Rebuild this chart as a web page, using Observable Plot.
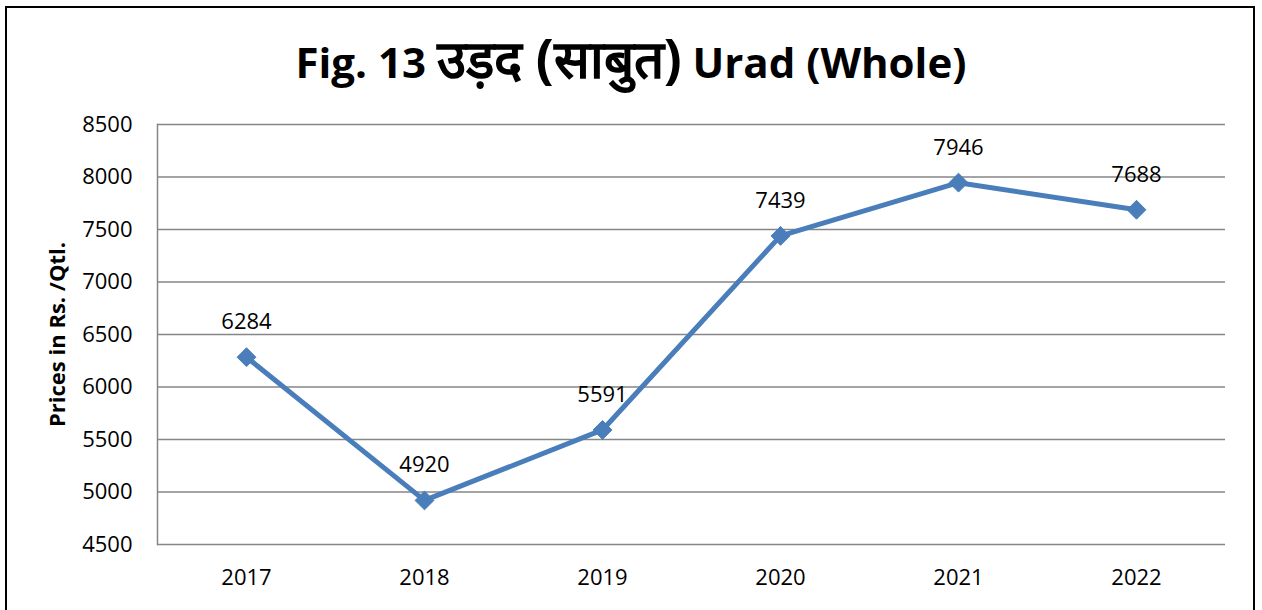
<!DOCTYPE html>
<html>
<head>
<meta charset="utf-8">
<script src="https://cdn.jsdelivr.net/npm/d3@7"></script>
<script src="https://cdn.jsdelivr.net/npm/@observablehq/plot@0.6"></script>
<style>
  html, body { margin: 0; padding: 0; background: #fff; overflow: hidden; }
  #wrap { position: relative; width: 1262px; height: 610px; font-family: "Open Sans", sans-serif; }
  #border { position: absolute; left: 5px; top: 6px; width: 1250px; height: 640px; border: 2px solid #000; box-sizing: border-box; }
  #title { position: absolute; left: 0; width: 1262px; top: 34px; text-align: center; font-size: 42px; font-weight: bold; color: #000; line-height: 48px; white-space: nowrap; }
  #title .hi { font-size: 53px; }
  #chart { position: absolute; left: 0; top: 0; }
</style>
</head>
<body>
<div id="wrap">
  <div id="border"></div>
  <div id="chart"></div>
  <div id="title">Fig. 13 <span class="hi">उड़द (साबुत)</span> Urad (Whole)</div>
</div>
<script>
const years = ["2017", "2018", "2019", "2020", "2021", "2022"];
const prices = [6284, 4920, 5591, 7439, 7946, 7688];
const yTicks = [4500, 5000, 5500, 6000, 6500, 7000, 7500, 8000, 8500];
const yLabel = "Prices in Rs. /Qtl.";

const data = years.map((y, i) => ({year: y, price: prices[i]}));
const blue = "#4a7ebb";

const chart = Plot.plot({
  width: 1262,
  height: 610,
  marginLeft: 157,
  marginRight: 37,
  marginTop: 124,
  marginBottom: 66,
  style: {fontFamily: "'Open Sans', sans-serif", fontSize: "22px", color: "#000", background: "transparent"},
  x: {type: "point", domain: years, padding: 0.5, label: null},
  y: {domain: [4500, 8500], ticks: yTicks, label: null, tickFormat: d3.format("d")},
  marks: [
    Plot.gridY(yTicks, {stroke: "#868686", strokeOpacity: 1, strokeWidth: 1.5}),
    Plot.frame({anchor: "left", stroke: "#868686", strokeWidth: 1.5}),
    Plot.axisY(yTicks, {tickSize: 0, tickPadding: 25, fontSize: 22, label: null, tickFormat: d3.format("d")}),
    Plot.axisX({tickSize: 0, tickPadding: 25, fontSize: 22, label: null}),
    Plot.text([yLabel], {frameAnchor: "left", textAnchor: "middle", dx: -100, rotate: -90, fontWeight: "bold", fontSize: 22}),
    Plot.line(data, {x: "year", y: "price", stroke: blue, strokeWidth: 5}),
    Plot.dot(data, {x: "year", y: "price", symbol: "diamond2", r: 8.5, fill: blue, stroke: blue, strokeWidth: 1}),
    Plot.text(data, {x: "year", y: "price", text: d => String(d.price), dy: -35, fontSize: 22, fill: "#000"})
  ]
});
document.getElementById("chart").appendChild(chart);
</script>
</body>
</html>
